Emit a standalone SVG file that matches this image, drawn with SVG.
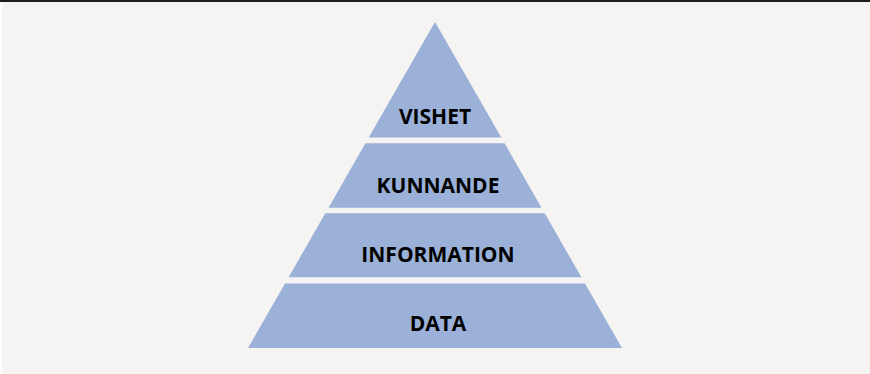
<svg xmlns="http://www.w3.org/2000/svg" width="870" height="374" viewBox="0 0 870 374">
<style>
.layer{fill:#9bb1d7}
.lbl{font-family:"Open Sans","Liberation Sans",sans-serif;font-weight:bold;font-size:21px;fill:#000;text-anchor:middle}
</style>
<rect x="0" y="0" width="870" height="374" fill="#f5f4f2"/>
<rect x="0" y="0" width="2" height="374" fill="#ffffff"/>
<rect x="0" y="0" width="870" height="2" fill="#1e1e1e"/>
<g id="vishet">
<polygon class="layer" points="435,22 501.3,137.5 368.7,137.5"/>
<text class="lbl" x="435" y="123.5">VISHET</text>
</g>
<g id="kunnande">
<polygon class="layer" points="365.4,143.3 504.6,143.3 541.5,207.7 328.5,207.7"/>
<text class="lbl" x="438" y="192.7">KUNNANDE</text>
</g>
<g id="information">
<polygon class="layer" points="325.3,213.3 544.7,213.3 581.4,277.3 288.6,277.3"/>
<text class="lbl" x="438" y="262">INFORMATION</text>
</g>
<g id="data">
<polygon class="layer" points="285,283.5 585,283.5 622,348 248,348"/>
<text class="lbl" x="438" y="331">DATA</text>
</g>
<g id="connectors"/>
</svg>
